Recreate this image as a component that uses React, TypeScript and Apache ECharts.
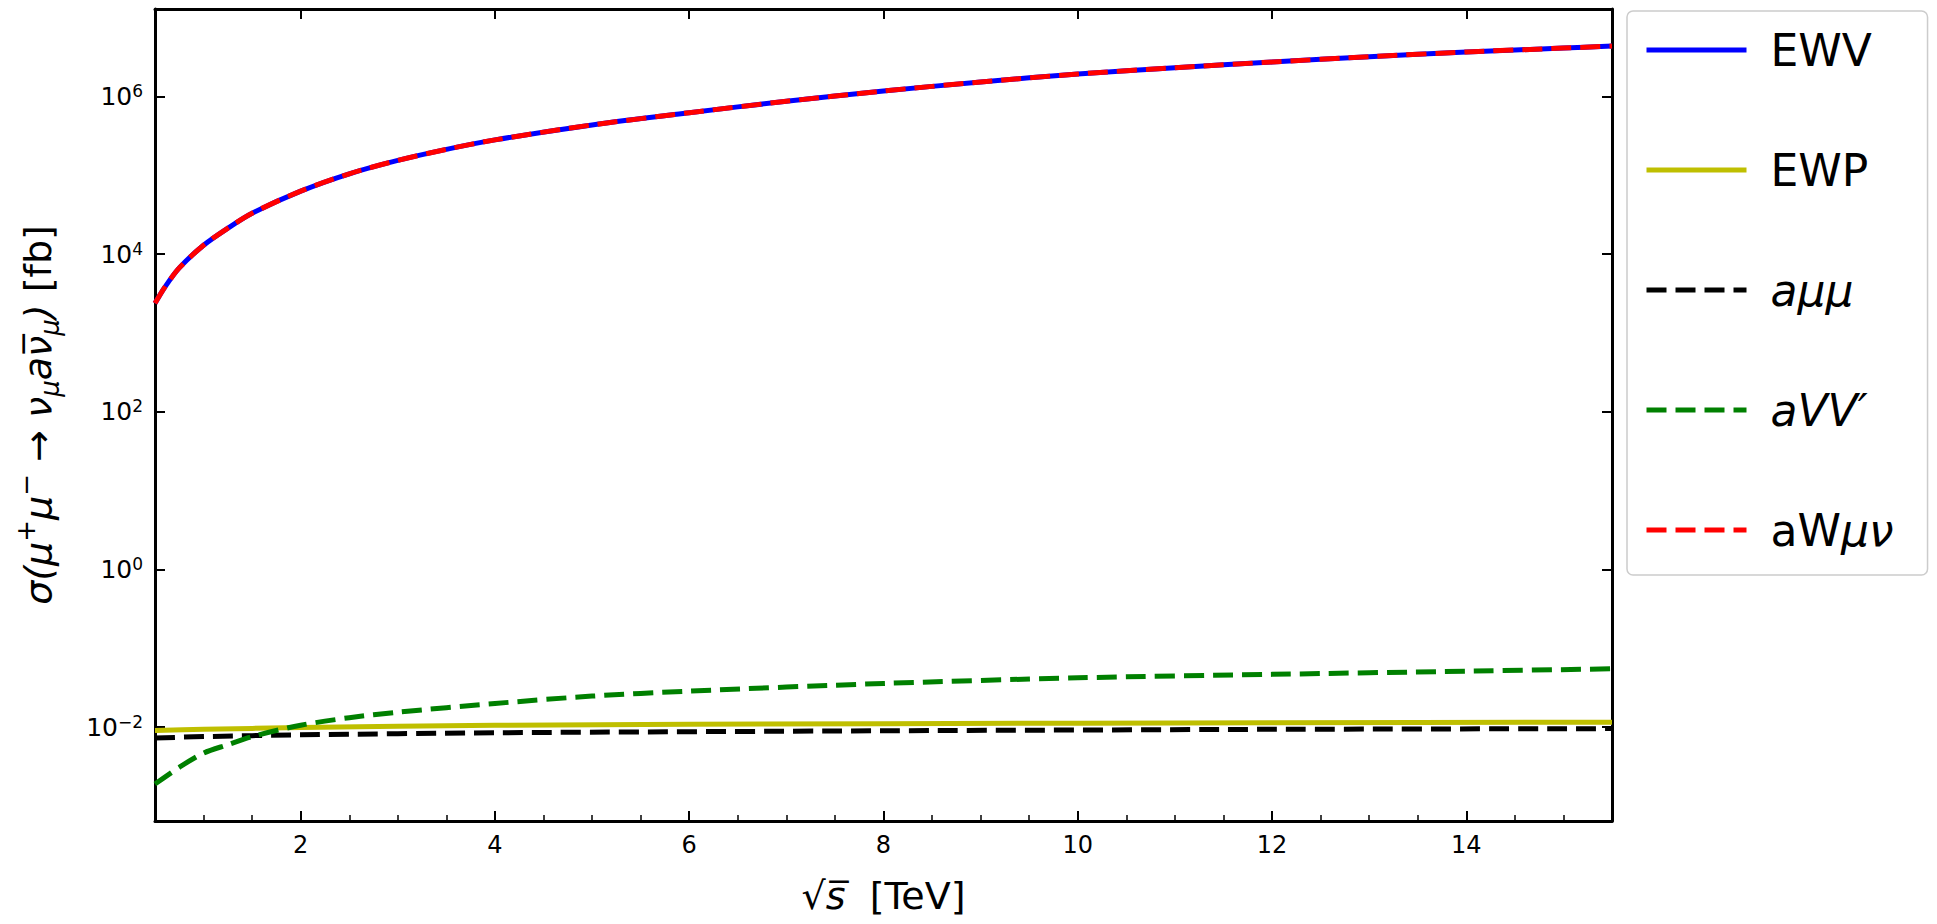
import React, { useEffect, useRef } from "react";
import * as echarts from "echarts";

// ---- data ----
const X_MIN = 0.5;
const X_MAX = 15.5;
const Y_MIN = 6.46e-4; // ~10^-3.19
const Y_MAX = 1.29e7; // ~10^7.11

const X_TICKS = [2, 4, 6, 8, 10, 12, 14];
const Y_TICKS = [1e-2, 1, 1e2, 1e4, 1e6];

const xEWV = [0.5, 0.6, 0.75, 1, 1.25, 1.5, 2, 2.5, 3, 3.5, 4, 5, 6, 7, 8, 9, 10, 11, 12, 13, 14, 15, 15.5];
const yEWV = [2380, 3800, 6700, 13000, 21400, 33100, 63100, 104700, 155000, 214000, 282000, 436500, 623700, 871000, 1175000, 1531000, 1932000, 2317000, 2742000, 3199000, 3673000, 4121000, 4365000];

const xEWP = [0.5, 1, 2, 4, 8, 12, 15.5];
const yEWP = [0.0091, 0.0094, 0.0099, 0.0106, 0.0111, 0.0114, 0.0116];

const xAmumu = [0.5, 1, 2, 4, 8, 12, 15.5];
const yAmumu = [0.0073, 0.0076, 0.008, 0.0085, 0.009, 0.0094, 0.0096];

const xAVV = [0.5, 0.75, 1, 1.25, 1.5, 2, 2.5, 3, 4, 5, 6, 8, 10, 12, 14, 15.5];
const yAVV = [0.0019, 0.0031, 0.0047, 0.006, 0.0076, 0.0106, 0.0132, 0.0155, 0.02, 0.0248, 0.0287, 0.0359, 0.0423, 0.0468, 0.0514, 0.055];

const xAWmunu = xEWV;
const yAWmunu = [2380, 3800, 6700, 13000, 21400, 33100, 63100, 104700, 155000, 214000, 282000, 436500, 623700, 871000, 1175000, 1531000, 1932000, 2317000, 2742000, 3199000, 3673000, 4121000, 4365000];

const SERIES_NAMES = ["EWV", "EWP", "aμμ", "aVV′", "aWμν"];

const FONT = "DejaVu Sans";

function zip(xs: number[], ys: number[]) {
  return xs.map((x, i) => [x, ys[i]]);
}

export default function App() {
  const ref = useRef<HTMLDivElement>(null);
  useEffect(() => {
    if (!ref.current) return;
    const chart = echarts.init(ref.current, undefined, { renderer: "svg" });

    const yLabelFmt = (v: number) => {
      const e = Math.round(Math.log10(v));
      const es = e < 0 ? "−" + -e : String(e);
      return `{b|10}{s|${es}}`;
    };

    const baseAxisLine = { show: true, onZero: false, lineStyle: { color: "#000", width: 3 } };

    const lineSeries = (name: string, data: number[][], color: string, dashed: boolean) => ({
      name,
      type: "line",
      data,
      showSymbol: false,
      symbol: "none",
      smooth: 0.3,
      xAxisIndex: 0,
      yAxisIndex: 0,
      lineStyle: { color, width: 5, type: dashed ? [20, 9] : "solid" },
      itemStyle: { color },
      emphasis: { disabled: true },
    });

    const legendFmt: Record<string, string> = {
      EWV: "EWV",
      EWP: "EWP",
      "aμμ": "{i|aμμ}",
      "aVV′": "{i|aVV′}",
      "aWμν": "aW{i|μν}",
    };

    chart.setOption({
      animation: false,
      backgroundColor: "#fff",
      grid: { left: 155, right: 325, top: 9, bottom: 103, show: false },
      legend: {
        data: SERIES_NAMES,
        orient: "vertical",
        left: 1627,
        top: 11,
        padding: [14, 34, 20, 17],
        itemWidth: 100,
        itemHeight: 20,
        itemGap: 70,
        backgroundColor: "#fff",
        borderColor: "#cccccc",
        borderWidth: 1.5,
        borderRadius: 6,
        selectedMode: false,
        itemStyle: { opacity: 0, borderWidth: 0 },
        lineStyle: { width: 5 },
        formatter: (n: string) => legendFmt[n] ?? n,
        textStyle: {
          fontFamily: FONT,
          fontSize: 44,
          lineHeight: 50,
          color: "#000",
          padding: [0, 0, 0, 19],
          rich: {
            i: { fontFamily: FONT, fontSize: 44, lineHeight: 50, fontStyle: "italic", color: "#000" },
          },
        },
      },
      xAxis: [
        {
          type: "value",
          position: "bottom",
          min: X_MIN,
          max: X_MAX,
          axisLine: baseAxisLine,
          axisTick: { show: true, inside: true, length: 10, lineStyle: { color: "#000", width: 2 }, customValues: X_TICKS },
          axisLabel: { show: true, customValues: X_TICKS, fontFamily: FONT, fontSize: 24, color: "#000", margin: 12 },
          splitLine: { show: false },
          name: "{n|√}{i|s̅}{n|  [TeV]}",
          nameLocation: "middle",
          nameGap: 52,
          nameTextStyle: {
            fontFamily: FONT,
            fontSize: 38,
            color: "#000",
            rich: {
              n: { fontFamily: FONT, fontSize: 38, lineHeight: 46, color: "#000" },
              i: { fontFamily: FONT, fontSize: 38, lineHeight: 46, fontStyle: "italic", color: "#000" },
            },
          },
        },
        {
          type: "value",
          position: "bottom",
          min: X_MIN,
          max: X_MAX,
          interval: 0.5,
          axisLine: { show: false },
          axisTick: { show: true, inside: true, length: 6, lineStyle: { color: "#000", width: 1.5 } },
          axisLabel: { show: false },
          splitLine: { show: false },
        },
        {
          type: "value",
          position: "top",
          min: X_MIN,
          max: X_MAX,
          axisLine: baseAxisLine,
          axisTick: { show: true, inside: true, length: 10, lineStyle: { color: "#000", width: 2 }, customValues: X_TICKS },
          axisLabel: { show: false },
          splitLine: { show: false },
        },
      ],
      yAxis: [
        {
          type: "log",
          logBase: 10,
          position: "left",
          min: Y_MIN,
          max: Y_MAX,
          axisLine: baseAxisLine,
          axisTick: { show: true, inside: true, length: 10, lineStyle: { color: "#000", width: 2 }, customValues: Y_TICKS },
          minorTick: { show: false },
          axisLabel: {
            show: true,
            customValues: Y_TICKS,
            formatter: yLabelFmt,
            margin: 12,
            color: "#000",
            fontFamily: FONT,
            rich: {
              b: { fontFamily: FONT, fontSize: 25, lineHeight: 28, color: "#000" },
              s: { fontFamily: FONT, fontSize: 17, lineHeight: 18, verticalAlign: "top", color: "#000" },
            },
          },
          splitLine: { show: false },
          name:
            "{m|σ(μ}{sup|+}{m|μ}{sup|−}{m| → ν}{sub|μ}{m|aν̅}{sub|μ}{m|)}{n| [fb]}",
          nameLocation: "middle",
          nameRotate: 90,
          nameGap: 92,
          nameTextStyle: {
            fontFamily: FONT,
            fontSize: 38,
            color: "#000",
            rich: {
              m: { fontFamily: FONT, fontSize: 38, lineHeight: 50, fontStyle: "italic", color: "#000" },
              n: { fontFamily: FONT, fontSize: 38, lineHeight: 50, color: "#000" },
              sup: { fontFamily: FONT, fontSize: 26, lineHeight: 26, verticalAlign: "top", fontStyle: "italic", color: "#000" },
              sub: { fontFamily: FONT, fontSize: 26, lineHeight: 26, verticalAlign: "bottom", fontStyle: "italic", color: "#000" },
            },
          },
        },
        {
          type: "log",
          logBase: 10,
          position: "right",
          min: Y_MIN,
          max: Y_MAX,
          axisLine: baseAxisLine,
          axisTick: { show: true, inside: true, length: 10, lineStyle: { color: "#000", width: 2 }, customValues: Y_TICKS },
          minorTick: { show: false },
          axisLabel: { show: false },
          splitLine: { show: false },
        },
      ],
      series: [
        lineSeries("EWV", zip(xEWV, yEWV), "#0000ff", false),
        lineSeries("EWP", zip(xEWP, yEWP), "#bfbf00", false),
        lineSeries("aμμ", zip(xAmumu, yAmumu), "#000000", true),
        lineSeries("aVV′", zip(xAVV, yAVV), "#008000", true),
        lineSeries("aWμν", zip(xAWmunu, yAWmunu), "#ff0000", true),
      ],
    });

    return () => chart.dispose();
  }, []);

  return (
    <div
      ref={ref}
      style={{ position: "absolute", left: 0, top: 0, width: 1937, height: 924, background: "#fff" }}
    />
  );
}
